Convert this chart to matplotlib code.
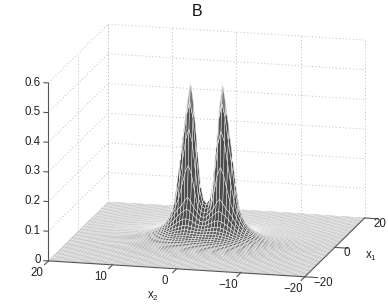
import numpy as np
import matplotlib
matplotlib.use('Agg')
import matplotlib.pyplot as plt
from mpl_toolkits.mplot3d import proj3d

plt.rcParams['font.family'] = ['Liberation Sans', 'DejaVu Sans']
plt.rcParams['mathtext.fontset'] = 'custom'
plt.rcParams['mathtext.rm'] = 'Liberation Sans'

x1_ticks = [-20, 0, 20]
x2_ticks = [20, 10, 0, -10, -20]
z_ticks = [0, 0.1, 0.2, 0.3, 0.4, 0.5, 0.6]
z_labels = ['0', '0.1', '0.2', '0.3', '0.4', '0.5', '0.6']

# heights, one quadrant (surface is mirrored in both axes)
x1_knots = [0, 0.5, 1, 1.5, 2, 3, 4, 6, 8, 10, 14, 20]
x2_knots = [0, 1, 2, 2.5, 3, 4, 5, 6, 8, 10, 14, 20]
heights = [
    [.080, .190, .450, .530, .460, .290, .105, .055, .026, .014, .006, .002],
    [.078, .170, .410, .465, .420, .265, .100, .054, .025, .014, .006, .002],
    [.075, .140, .330, .375, .340, .200, .092, .050, .025, .014, .006, .002],
    [.072, .110, .225, .255, .230, .140, .078, .046, .024, .014, .006, .002],
    [.066, .088, .135, .150, .135, .098, .064, .042, .022, .013, .006, .002],
    [.054, .060, .068, .070, .066, .056, .044, .032, .018, .012, .0055, .002],
    [.043, .045, .047, .047, .046, .040, .033, .026, .016, .010, .005, .002],
    [.023, .023, .023, .023, .023, .021, .019, .016, .012, .008, .004, .002],
    [.013, .013, .013, .013, .012, .012, .011, .010, .009, .007, .004, .002],
    [.008, .008, .008, .008, .008, .007, .007, .007, .006, .005, .003, .0015],
    [.004, .004, .004, .004, .004, .004, .004, .004, .003, .003, .002, .001],
    [.002, .002, .002, .002, .002, .002, .002, .002, .002, .0015, .001, .0005],
]


def refine(table):
    # spread the read table onto the 0.5 step mesh the picture is drawn with
    table = np.array(table)
    half = np.arange(0, 20.5, 0.5)
    rows = np.array([np.interp(half, x2_knots, r) for r in table])
    quad = np.array([np.interp(half, x1_knots, c) for c in rows.T]).T
    top = np.hstack([quad[:, :0:-1], quad])
    full = np.vstack([top[:0:-1], top])
    axis = np.concatenate([-half[:0:-1], half])
    return axis, full


def box3(a):
    # 3x3 average, keeps the knots of the table out of the face colours
    p = np.pad(a, 1, mode='edge')
    return sum(p[1 + i:p.shape[0] - 1 + i, 1 + j:p.shape[1] - 1 + j]
               for i in (-1, 0, 1) for j in (-1, 0, 1)) / 9


fig = plt.figure(figsize=(3.88, 3.06), dpi=100)
L = 393
ax = fig.add_axes([4.7 / 388, -46.3 / 306, L / 388, L / 306], projection='3d')
ax.set_proj_type('ortho')
ax.view_init(elev=14.3, azim=194.1)
ax.set_box_aspect((246, 265, 184))
ax.set_xlim(-20, 20, view_margin=0)
ax.set_ylim(-20, 20, view_margin=0)
ax.set_zlim(0, 0.6, view_margin=0)
ax.set_axis_off()
ax.computed_zorder = False

axis, Z = refine(heights)
# the low skirt is smoothed so the knots of the table do not show as creases
soft = box3(box3(box3(Z)))
low = np.clip((0.12 - Z) / 0.05, 0, 1)
Z = low * soft + (1 - low) * Z
X1, X2 = np.meshgrid(axis, axis, indexing='ij')

# faces darken with slope and fade again towards the tips
g1, g2 = np.gradient(Z, axis, axis)
slope = box3(np.hypot(g1, g2))[:-1, :-1]
top = Z[:-1, :-1]
gray = 0.46 - 0.16 * np.clip(np.sqrt(slope / 0.04), 0, 1)
gray = gray + 0.55 * np.clip((top - 0.36) / 0.17, 0, 1)
faces = plt.cm.gray(np.clip(gray, 0, 1))

ax.plot_surface(X1, X2, Z, rstride=1, cstride=1, facecolors=faces, shade=False,
                edgecolor='white', linewidth=0.3, zorder=2)

grid_kw = dict(color='#bcbcbc', lw=0.7, ls=(0, (1, 2.5)), zorder=1)
axis_kw = dict(color='#555555', lw=0.8, zorder=3)
text_kw = dict(fontsize=8.3, color='#222222', transform=ax.transData)


def label(x, y, z, s, **kw):
    px, py, _ = proj3d.proj_transform(x, y, z, ax.get_proj())
    ax.text2D(px, py, s, va='center', **kw, **text_kw)


for t in z_ticks:
    ax.plot([-20, 20], [20, 20], [t, t], **grid_kw)
    ax.plot([20, 20], [20, -20], [t, t], **grid_kw)
for t in x1_ticks:
    ax.plot([t, t], [20, 20], [0, 0.6], **grid_kw)
for t in x2_ticks:
    ax.plot([20, 20], [t, t], [0, 0.6], **grid_kw)

# axis lines
ax.plot([-20, -20], [20, 20], [0, 0.6], **axis_kw)
ax.plot([-20, -20], [20, -20], [0, 0], **axis_kw)
ax.plot([-20, 20], [-20, -20], [0, 0], **axis_kw)

for t, s in zip(z_ticks, z_labels):
    ax.plot([-20, -20], [20, 20.7], [t, t], **axis_kw)
    label(-20, 21.2, t, s, ha='right')

for t in x2_ticks:
    ax.plot([-20, -22.5], [t, t], [0, 0], **axis_kw)
    label(-28, t, 0, str(t).replace('-', '\u2212'), ha='center')

for t in x1_ticks:
    ax.plot([t, t], [-20, -22], [0, 0], **axis_kw)
    label(t, -21.3, -0.018, str(t).replace('-', '\u2212'), ha='left')

fig.text(153 / 388, 1 - 296 / 306, r'x$_{\mathrm{2}}$', ha='center', va='center',
         fontsize=8.3, color='#222222')
fig.text(371 / 388, 1 - 256 / 306, r'x$_{\mathrm{1}}$', ha='center', va='center',
         fontsize=8.3, color='#222222')
fig.text(197 / 388, 1 - 12 / 306, 'B', ha='center', va='center', fontsize=11.5, color='#111111')

fig.savefig('out.png', dpi=100)
